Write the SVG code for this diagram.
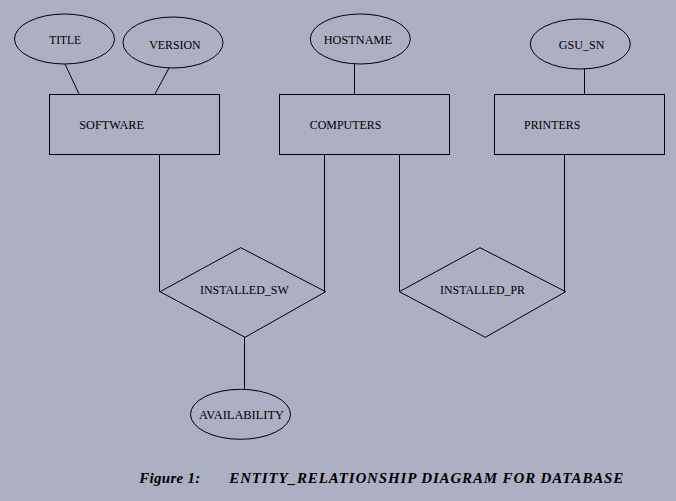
<svg xmlns="http://www.w3.org/2000/svg" width="676" height="501" viewBox="0 0 676 501">
<style>
.s{fill:none;stroke:#000;stroke-width:1}
.t{font-family:"Liberation Serif","Times New Roman",serif;font-size:13px;fill:#000}
.c{font-family:"Liberation Serif","Times New Roman",serif;font-size:15px;font-weight:bold;font-style:italic;fill:#000}
</style>
<rect width="676" height="501" fill="#ADAFC3"/>
<g id="connectors" class="s">
<line x1="65" y1="64" x2="79" y2="94"/>
<line x1="169" y1="68" x2="155" y2="94"/>
<line x1="354.5" y1="64" x2="354.5" y2="94"/>
<line x1="584.5" y1="69" x2="584.5" y2="94"/>
<polyline points="159.5,154 159.5,291.5 160,291.5"/>
<polyline points="324.5,154 324.5,291.5"/>
<polyline points="399.5,154 399.5,291.5"/>
<polyline points="564.5,154 564.5,291.5"/>
<line x1="244.5" y1="337" x2="244.5" y2="389"/>
</g>
<g id="title"><ellipse class="s" cx="64.5" cy="39" rx="50" ry="25"/><text class="t" x="49.3" y="44" textLength="31.7" lengthAdjust="spacingAndGlyphs">TITLE</text></g>
<g id="version"><ellipse class="s" cx="173" cy="42.5" rx="50" ry="25.5"/><text class="t" x="149.3" y="49" textLength="51.3" lengthAdjust="spacingAndGlyphs">VERSION</text></g>
<g id="software"><rect class="s" x="49.5" y="94.5" width="170" height="60"/><text class="t" x="79.3" y="129.3" textLength="64.7" lengthAdjust="spacingAndGlyphs">SOFTWARE</text></g>
<g id="hostname"><ellipse class="s" cx="360.3" cy="39" rx="50" ry="25"/><text class="t" x="323.7" y="44" textLength="68.3" lengthAdjust="spacingAndGlyphs">HOSTNAME</text></g>
<g id="computers"><rect class="s" x="279.5" y="94.5" width="170" height="60"/><text class="t" x="309.7" y="129.3" textLength="71.7" lengthAdjust="spacingAndGlyphs">COMPUTERS</text></g>
<g id="gsu_sn"><ellipse class="s" cx="580.3" cy="44" rx="50" ry="25"/><text class="t" x="558.7" y="49" textLength="45.7" lengthAdjust="spacingAndGlyphs">GSU_SN</text></g>
<g id="printers"><rect class="s" x="494.5" y="94.5" width="170" height="60"/><text class="t" x="524" y="129.3" textLength="56.3" lengthAdjust="spacingAndGlyphs">PRINTERS</text></g>
<g id="installed_sw"><polygon class="s" points="160,291.7 240.7,247.7 325.7,291.7 245,337.3"/><text class="t" x="200" y="294.3" textLength="88.7" lengthAdjust="spacingAndGlyphs">INSTALLED_SW</text></g>
<g id="installed_pr"><polygon class="s" points="399.3,291.7 480,247.7 565.7,291.7 485.3,337.3"/><text class="t" x="440" y="294.3" textLength="85" lengthAdjust="spacingAndGlyphs">INSTALLED_PR</text></g>
<g id="availability"><ellipse class="s" cx="240.5" cy="414.3" rx="50" ry="25"/><text class="t" x="199" y="418.7" textLength="85" lengthAdjust="spacingAndGlyphs">AVAILABILITY</text></g>
<g id="caption"><text class="c" x="139.3" y="483.3" textLength="61">Figure 1:</text><text class="c" x="229.3" y="483.3" textLength="394">ENTITY_RELATIONSHIP DIAGRAM FOR DATABASE</text></g>
</svg>
